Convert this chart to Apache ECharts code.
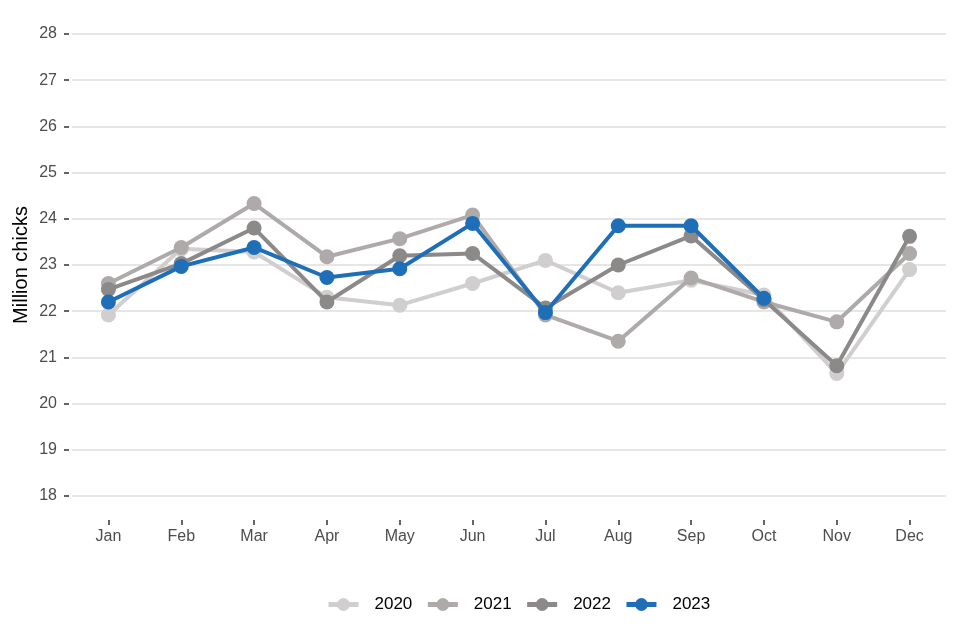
<!DOCTYPE html>
<html>
<head>
<meta charset="utf-8">
<script src="https://cdn.jsdelivr.net/npm/echarts@6/dist/echarts.min.js"></script>
<style>html,body{margin:0;padding:0;background:#fff}#c{width:960px;height:640px}</style>
</head>
<body>
<div id="c"></div>
<script>
var months = ['Jan','Feb','Mar','Apr','May','Jun','Jul','Aug','Sep','Oct','Nov','Dec'];
var yTicks = [18,19,20,21,22,23,24,25,26,27,28];
var y2020 = [21.92,23.35,23.28,22.30,22.13,22.60,23.10,22.40,22.67,22.35,20.65,22.90];
var y2021 = [22.60,23.38,24.33,23.18,23.57,24.08,21.92,21.35,22.72,22.20,21.77,23.25];
var y2022 = [22.47,23.03,23.80,22.20,23.20,23.25,22.07,23.00,23.63,22.25,20.82,23.62];
var y2023 = [22.20,22.97,23.38,22.73,22.92,23.90,21.97,23.85,23.85,22.28,null,null];
var seriesNames = ['2020','2021','2022','2023'];
var colors = ['#d0cece','#aeaaaa','#8c8989','#1f6fb8'];
var data = [y2020,y2021,y2022,y2023];

var chart = echarts.init(document.getElementById('c'));
chart.setOption({
  animation:false,
  backgroundColor:'#fff',
  textStyle:{fontFamily:'Liberation Sans, Arial, sans-serif'},
  grid:{left:72,right:14,top:34,bottom:144,containLabel:false,outerBoundsMode:'none'},
  legend:{
    data:seriesNames,
    top:591,
    left:321,
    itemWidth:30,
    itemHeight:16,
    itemGap:13,
    lineStyle:{width:5},
    textStyle:{color:'#000',fontSize:17,padding:[0,0,0,11],fontFamily:'Liberation Sans, Arial, sans-serif'}
  },
  xAxis:{
    type:'category',
    data:months,
    boundaryGap:true,
    offset:24,
    axisLine:{show:false},
    axisTick:{show:true,alignWithLabel:true,length:5,lineStyle:{color:'#333',width:1.5}},
    axisLabel:{color:'#4d4d4d',fontSize:16,margin:9},
    splitLine:{show:false}
  },
  yAxis:{
    type:'value',
    min:18,max:28,interval:1,
    offset:3,
    name:'Million chicks',
    nameLocation:'middle',
    nameGap:38,
    nameMoveOverlap:false,
    nameTextStyle:{color:'#000',fontSize:20},
    axisLine:{show:false},
    axisTick:{show:true,length:5,lineStyle:{color:'#333',width:1.5}},
    axisLabel:{color:'#4d4d4d',fontSize:16,margin:12},
    splitLine:{show:true,lineStyle:{color:'#e6e6e6',width:2}}
  },
  series:data.map(function(d,i){
    return {
      name:seriesNames[i],
      type:'line',
      data:d,
      symbol:'circle',
      symbolSize:15,
      lineStyle:{width:4,color:colors[i]},
      itemStyle:{color:colors[i]},
      z:2+i
    };
  })
});
</script>
</body>
</html>
